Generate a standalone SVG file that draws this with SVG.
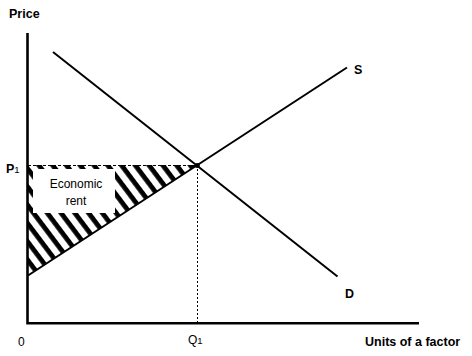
<svg xmlns="http://www.w3.org/2000/svg" width="472" height="356" viewBox="0 0 472 356">
<style>
.lbl{font-family:"Liberation Sans",Arial,sans-serif;font-weight:bold;font-size:12.5px;fill:#000}
.reg{font-family:"Liberation Sans",Arial,sans-serif;font-size:12px;fill:#000}
.axis{stroke:#000;stroke-width:2.6;fill:none}
.curve{stroke:#000;stroke-width:2;fill:none}
</style>
<defs>
<pattern id="hatch" patternUnits="userSpaceOnUse" width="11" height="11" patternTransform="rotate(53)">
<rect x="0" y="0" width="11" height="4.8" fill="#000"/>
</pattern>
</defs>
<rect width="472" height="356" fill="#fff"/>
<g id="rent-area">
<polygon points="28,165 197,165 28,275" fill="url(#hatch)"/>
<rect x="33" y="169" width="82" height="44" fill="#fff"/>
<text class="reg" x="76" y="188" text-anchor="middle">Economic</text>
<text class="reg" x="76" y="205" text-anchor="middle">rent</text>
</g>
<g id="connectors">
<line x1="28" y1="165.5" x2="197" y2="165.5" stroke="#000" stroke-width="1.2" stroke-dasharray="3,2"/>
<line x1="197.5" y1="165" x2="197.5" y2="323" stroke="#000" stroke-width="1" stroke-dasharray="2,2"/>
<line class="curve" x1="28" y1="275.5" x2="347" y2="67.5"/>
<line class="curve" x1="53" y1="52" x2="337.5" y2="276.5"/>
<circle cx="197.3" cy="165.6" r="2.5" fill="#000"/>
</g>
<g id="axes">
<polyline class="axis" points="27.5,33 27.5,323.3 419,323.3"/>
</g>
<g id="labels">
<text class="lbl" x="9" y="18" font-size="13">Price</text>
<text class="lbl" x="6" y="173">P<tspan font-size="9.5" font-weight="normal">1</tspan></text>
<text class="reg" x="18" y="346">0</text>
<text class="reg" x="188" y="344">Q<tspan font-size="9.5">1</tspan></text>
<text class="lbl" x="365" y="346">Units of a factor</text>
<text class="lbl" x="354" y="74">S</text>
<text class="lbl" x="345" y="298">D</text>
</g>
</svg>
